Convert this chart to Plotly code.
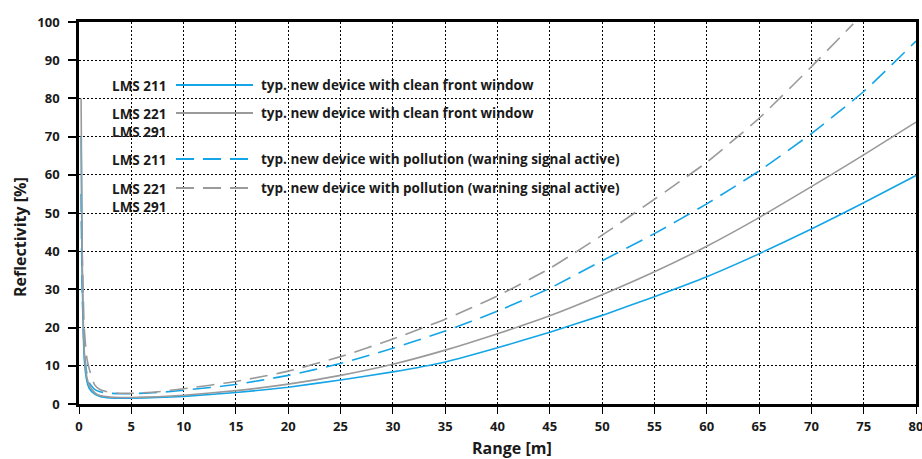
import plotly.graph_objects as go

# ---- data ----
x_main = [0.2, 0.3, 0.5, 0.75, 1, 1.5, 2, 3, 4, 5, 7.5, 10, 15, 20, 25, 30, 35,
          40, 45, 50, 55, 60, 65, 70, 75, 80]
lms211_clean = [70, 35, 12, 6, 4, 2.6, 2.0, 1.6, 1.5, 1.5, 1.7, 2.0, 3.0, 4.4, 6.3,
                8.4, 11.0, 14.7, 18.8, 23.2, 28.1, 33.3, 39.3, 45.8, 52.7, 59.8]
lms221_clean = [80, 40, 14, 7, 4.8, 3.0, 2.2, 1.8, 1.7, 1.7, 1.9, 2.3, 3.5, 5.2, 7.5,
                10.4, 14.1, 18.4, 23.1, 28.6, 34.6, 41.3, 48.8, 56.9, 65.2, 73.8]
lms211_poll = [55, 30, 14, 8, 5.5, 3.8, 3.2, 2.8, 2.7, 2.7, 3.0, 3.6, 5.1, 7.5, 10.6,
               14.6, 19.1, 24.3, 30.3, 37.5, 44.6, 52.4, 61.0, 70.8, 81.8, 95.0]
x_gray_poll = [0.25, 0.35, 0.5, 0.75, 1, 1.5, 2, 3, 4, 5, 7.5, 10, 15, 20, 25, 30, 35,
               40, 45, 50, 55, 60, 65, 70, 74]
lms221_poll = [48, 35, 20, 12, 9, 5, 3.8, 3.0, 2.8, 2.8, 3.2, 4.0, 5.9, 8.6, 12.4,
               17.0, 22.2, 28.3, 35.5, 44.2, 53.6, 63.3, 74.8, 88.3, 99.5]

x_ticks = list(range(0, 81, 5))
y_ticks = list(range(0, 101, 10))

legend_models = [["LMS 211"], ["LMS 221", "LMS 291"], ["LMS 211"], ["LMS 221", "LMS 291"]]
legend_texts = ["typ. new device with clean front window",
                "typ. new device with clean front window",
                "typ. new device with pollution (warning signal active)",
                "typ. new device with pollution (warning signal active)"]
x_title = "Range [m]"
y_title = "Reflectivity [%]"

BLUE = "#14a5e6"
GRAY = "#9a9a9a"
FONT = "Open Sans"
TXT = "#1a1a1a"

fig = go.Figure()
fig.add_trace(go.Scatter(x=x_main, y=lms211_poll, mode="lines",
                         line=dict(color=BLUE, width=1.6, dash="18px,9px", shape="spline", smoothing=0.5)))
fig.add_trace(go.Scatter(x=x_gray_poll, y=lms221_poll, mode="lines",
                         line=dict(color=GRAY, width=1.6, dash="18px,9px", shape="spline", smoothing=0.5)))
fig.add_trace(go.Scatter(x=x_main, y=lms211_clean, mode="lines",
                         line=dict(color=BLUE, width=1.6, shape="spline", smoothing=0.5)))
fig.add_trace(go.Scatter(x=x_main, y=lms221_clean, mode="lines",
                         line=dict(color=GRAY, width=1.6, shape="spline", smoothing=0.5)))

W, H = 922, 459
L, R, T, B = 79, 6, 22, 55
pw, ph = W - L - R, H - T - B

def px_x(p):
    return (p - L) / pw

def px_y(p):
    return 1 - (p - T) / ph

shapes = []
annotations = []
# white background boxes behind legend rows (cover vertical gridlines)
for (y0, y1) in [(67, 95), (105, 133), (142, 172), (181, 210)]:
    shapes.append(dict(type="rect", xref="paper", yref="paper", layer="between",
                       x0=px_x(95), x1=px_x(580), y0=px_y(y1), y1=px_y(y0),
                       fillcolor="white", line=dict(width=0)))

row_y = [85, 113, 159, 188]
row_col = [BLUE, GRAY, BLUE, GRAY]
row_dash = ["solid", "solid", "18px,9px", "18px,9px"]
for i in range(4):
    shapes.append(dict(type="line", xref="paper", yref="paper", layer="above",
                       x0=px_x(176), x1=px_x(253), y0=px_y(row_y[i]), y1=px_y(row_y[i]),
                       line=dict(color=row_col[i], width=2, dash=row_dash[i])))
    annotations.append(dict(xref="paper", yref="paper", x=px_x(168), y=px_y(row_y[i] - 10),
                            text="<br>".join("<b>" + m + "</b>" for m in legend_models[i]),
                            showarrow=False, xanchor="right", yanchor="top", align="right",
                            font=dict(family=FONT, size=13.5, color=TXT)))
    annotations.append(dict(xref="paper", yref="paper", x=px_x(259), y=px_y(row_y[i]),
                            text="<b>" + legend_texts[i] + "</b>", showarrow=False, xanchor="left",
                            yanchor="middle",
                            font=dict(family=FONT, size=13.5, color=TXT)))

# axis titles
annotations.append(dict(xref="paper", yref="paper", x=px_x(512), y=px_y(448),
                        text="<b>" + x_title + "</b>", showarrow=False,
                        xanchor="center", yanchor="middle",
                        font=dict(family=FONT, size=16, color=TXT)))
annotations.append(dict(xref="paper", yref="paper", x=px_x(20), y=px_y(237),
                        text="<b>" + y_title + "</b>", showarrow=False, textangle=-90,
                        xanchor="center", yanchor="middle",
                        font=dict(family=FONT, size=16, color=TXT)))

fig.update_layout(
    width=W, height=H,
    margin=dict(l=L, r=R, t=T, b=B),
    paper_bgcolor="white", plot_bgcolor="white",
    showlegend=False,
    shapes=shapes, annotations=annotations,
    font=dict(family=FONT, color=TXT),
)
fig.update_xaxes(range=[0, 80], tickvals=x_ticks, ticktext=["<b>%d</b>" % v for v in x_ticks],
                 showgrid=True, gridcolor="black", gridwidth=1, griddash="2px,2px",
                 showline=True, linecolor="black", linewidth=2.5, mirror=True,
                 ticks="outside", ticklen=7, tickwidth=1, tickcolor="black",
                 ticklabelstandoff=2, ticklabeloverflow="allow",
                 zeroline=False, automargin=False,
                 tickfont=dict(family=FONT, size=13, color=TXT))
fig.update_yaxes(range=[0, 100], tickvals=y_ticks, ticktext=["<b>%d</b>" % v for v in y_ticks],
                 showgrid=True, gridcolor="black", gridwidth=1, griddash="2px,2px",
                 showline=True, linecolor="black", linewidth=2.5, mirror=True,
                 ticks="outside", ticklen=8, tickwidth=2, tickcolor="black",
                 ticklabelstandoff=6, ticklabeloverflow="allow",
                 zeroline=False, automargin=False,
                 tickfont=dict(family=FONT, size=13, color=TXT))

fig.write_html("out.html")
